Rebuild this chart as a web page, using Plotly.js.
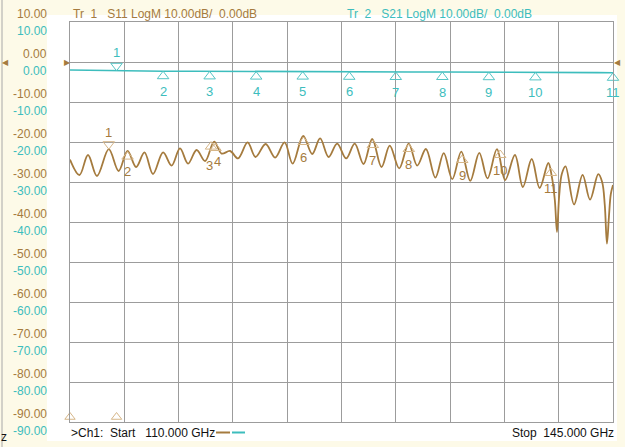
<!DOCTYPE html>
<html><head><meta charset="utf-8">
<script src="https://cdn.plot.ly/plotly-3.0.1.min.js"></script>
<style>html,body{margin:0;padding:0;background:#fdfae8;}#chart{width:625px;height:447px;}</style>
</head><body><div id="chart"></div>
<script>
// ---- data ----
const s11Freq = [110.00,110.61,111.16,111.74,112.50,113.13,113.71,114.26,114.80,115.35,116.00,116.55,117.09,117.61,118.16,118.71,119.29,119.77,120.32,120.83,121.45,121.96,122.61,123.22,123.83,124.35,125.03,125.61,126.12,126.67,127.22,127.80,128.35,128.92,129.48,130.08,130.61,131.22,131.83,132.38,132.94,133.55,134.09,134.64,135.22,135.80,136.38,136.91,137.52,138.05,138.68,139.19,139.76,140.27,140.83,141.05,141.25,141.39,141.53,141.70,141.94,142.49,143.04,143.52,144.05,144.30,144.47,144.61,144.74,144.86,145.00];
const s11dB   = [-24.4,-28.25,-23.25,-28.5,-21.8,-27.25,-22.25,-26.25,-22.6,-28.0,-22.6,-25.9,-21.6,-25.4,-22.0,-24.75,-19.9,-22.9,-22.25,-24.1,-20.1,-23.75,-20.5,-23.9,-20.1,-25.4,-18.5,-23.0,-19.1,-23.75,-20.4,-24.1,-20.4,-25.5,-19.25,-26.25,-20.9,-26.6,-20.4,-25.9,-21.75,-28.9,-22.8,-29.3,-22.4,-29.7,-22.7,-29.1,-21.8,-29.5,-23.25,-31.25,-24.25,-31.5,-25.25,-28.5,-34.5,-42.5,-33.5,-28.0,-26.1,-35.6,-28.2,-34.4,-28.05,-30.0,-35.75,-45.4,-38.5,-33.0,-30.75];

const s21Freq = [110,111.5,113,114.5,116,118,120,122,124,126,128,130,132,134,136,138,140,142,144,145];
const s21dB   = [-2.0,-2.1,-2.2,-2.2,-2.3,-2.3,-2.35,-2.4,-2.4,-2.4,-2.45,-2.45,-2.5,-2.5,-2.5,-2.55,-2.6,-2.6,-2.65,-2.7];

const yTickVals = [10,0,-10,-20,-30,-40,-50,-60,-70,-80,-90];
const yTickText = ["10.00","0.00","-10.00","-20.00","-30.00","-40.00","-50.00","-60.00","-70.00","-80.00","-90.00"];

const s21MkFreq = [113,116,119,122,125,128,131,134,137,140,145];
const s21MkVal  = [-2.2,-2.3,-2.35,-2.4,-2.4,-2.45,-2.5,-2.5,-2.55,-2.6,-2.7];
const s21MkLbl  = ["1","2","3","4","5","6","7","8","9","10","11"];

const s11MkFreq = [112.5,113.71,119.09,119.38,125.06,129.52,131.84,135.28,137.73,141.0];
const s11MkVal  = [-21.8,-22.4,-19.9,-20.25,-18.75,-19.5,-20.5,-23.25,-22.0,-26.5];
const s11MkLbl  = ["1","2","3","4","6","7","8","9","10","11"];

const edgeMkFreq = [110,113];
const edgeMkVal  = [-90,-90];

// ---- styling ----
const BROWN = '#a57b3e', BROWN_L = '#d6b688', CYAN = '#3dbdbd', CYAN_M = '#55c5c5', GRID = '#9c9c9c';
const FONT = 'Liberation Sans, Arial, Helvetica, sans-serif';
const L = 70, T = 22, W = 543, H = 400;
const px = x => (x - L) / W;
const py = y => 1 - (y - T) / H;
// small pixel nudges so the crowded S11 labels 3 and 4 sit as in the reference
const s11LabelNudge = {'3': [-2, -4], '4': [2, 2]};

const traces = [
  {x: s11Freq, y: s11dB, mode: 'lines', line: {color: BROWN, width: 1.8, shape: 'spline', smoothing: 1.0}, hoverinfo: 'skip'},
  {x: s21Freq, y: s21dB, mode: 'lines', line: {color: CYAN, width: 1.6}, hoverinfo: 'skip'},
  {x: s21MkFreq.slice(1), y: s21MkVal.slice(1), yaxis: 'y2', mode: 'markers', cliponaxis: false,
   marker: {symbol: 'triangle-up-open', size: 10, color: CYAN_M, line: {width: 1}}},
  {x: s21MkFreq.slice(0,1), y: s21MkVal.slice(0,1), yaxis: 'y3', mode: 'markers', cliponaxis: false,
   marker: {symbol: 'triangle-down-open', size: 10, color: CYAN_M, line: {width: 1}}},
  {x: s11MkFreq.slice(1), y: s11MkVal.slice(1), yaxis: 'y2', mode: 'markers', cliponaxis: false,
   marker: {symbol: 'triangle-up-open', size: 10, color: BROWN_L, line: {width: 1}}},
  {x: s11MkFreq.slice(0,1), y: s11MkVal.slice(0,1), yaxis: 'y3', mode: 'markers', cliponaxis: false,
   marker: {symbol: 'triangle-down-open', size: 10, color: BROWN_L, line: {width: 1}}},
  {x: edgeMkFreq, y: edgeMkVal, yaxis: 'y3', mode: 'markers', cliponaxis: false,
   marker: {symbol: 'triangle-up-open', size: 9, color: BROWN_L, line: {width: 1}}}
];

const ann = [];
yTickVals.forEach((v, i) => {
  ann.push({xref: 'paper', x: 0, xanchor: 'right', xshift: -21.5, yref: 'y', y: v, yanchor: 'middle', yshift: 8.5,
            text: yTickText[i], showarrow: false, font: {family: FONT, size: 12, color: BROWN}});
  ann.push({xref: 'paper', x: 0, xanchor: 'right', xshift: -21.5, yref: 'y', y: v, yanchor: 'middle', yshift: -8.5,
            text: yTickText[i], showarrow: false, font: {family: FONT, size: 12, color: CYAN}});
});
s21MkFreq.forEach((f, i) => {
  ann.push({xref: 'x', x: f, yref: 'y', y: s21MkVal[i], yshift: i === 0 ? 18 : -20, text: s21MkLbl[i],
            showarrow: false, font: {family: FONT, size: 13, color: CYAN}});
});
s11MkFreq.forEach((f, i) => {
  const n = s11LabelNudge[s11MkLbl[i]] || [0, 0];
  ann.push({xref: 'x', x: f, yref: 'y', y: s11MkVal[i], xshift: n[0], yshift: (i === 0 ? 17 : -20) + n[1], text: s11MkLbl[i],
            showarrow: false, font: {family: FONT, size: 13, color: BROWN}});
});
const nb = s => s.replace(/ /g, '\u00a0');
ann.push({xref: 'paper', x: px(71), xanchor: 'left', yref: 'paper', y: py(13.5), yanchor: 'middle', showarrow: false,
          text: nb('Tr  1   S11 LogM 10.00dB/  0.00dB'), font: {family: FONT, size: 12, color: BROWN}});
ann.push({xref: 'paper', x: px(345), xanchor: 'left', yref: 'paper', y: py(13.5), yanchor: 'middle', showarrow: false,
          text: nb('Tr  2   S21 LogM 10.00dB/  0.00dB'), font: {family: FONT, size: 12, color: CYAN}});
ann.push({xref: 'paper', x: px(69), xanchor: 'left', yref: 'paper', y: py(433), yanchor: 'middle', showarrow: false,
          text: nb('>Ch1:  Start   110.000 GHz'), font: {family: FONT, size: 12, color: '#111'}});
ann.push({xref: 'paper', x: px(616), xanchor: 'right', yref: 'paper', y: py(433), yanchor: 'middle', showarrow: false,
          text: nb('Stop  145.000 GHz'), font: {family: FONT, size: 12, color: '#111'}});
// reference-level pointers
ann.push({xref: 'paper', x: 0, xanchor: 'right', xshift: 3, yref: 'y', y: 0, yanchor: 'middle', showarrow: false,
          text: '\u25B6', font: {family: 'DejaVu Sans', size: 8, color: BROWN}});
ann.push({xref: 'paper', x: 1, xanchor: 'left', xshift: -1, yref: 'y', y: 0, yanchor: 'middle', showarrow: false,
          text: '\u25C0', font: {family: 'DejaVu Sans', size: 8, color: BROWN}});
ann.push({xref: 'paper', x: px(0), xanchor: 'left', yref: 'y', y: 0, yanchor: 'middle', showarrow: false,
          text: '\u25C0', font: {family: 'DejaVu Sans', size: 8, color: BROWN}});
ann.push({xref: 'paper', x: px(-1), xanchor: 'left', yref: 'paper', y: py(437), yanchor: 'middle', showarrow: false,
          text: 'z', font: {family: FONT, size: 12, color: '#111'}});

const shapes = [
  {type: 'rect', xref: 'paper', yref: 'paper', x0: px(47), x1: px(617), y0: py(441), y1: py(15),
   fillcolor: '#ffffff', line: {width: 0}, layer: 'below'},
  {type: 'line', xref: 'paper', yref: 'paper', x0: px(2), x1: px(2), y0: py(447), y1: py(0),
   line: {color: '#a8a8a8', width: 1}},
  {type: 'line', xref: 'paper', yref: 'paper', x0: px(216), x1: px(230), y0: py(432.5), y1: py(432.5),
   line: {color: BROWN, width: 2}},
  {type: 'line', xref: 'paper', yref: 'paper', x0: px(232), x1: px(245), y0: py(432.5), y1: py(432.5),
   line: {color: CYAN, width: 2}}
];

const axisCommon = {showgrid: true, gridcolor: GRID, gridwidth: 1, zeroline: false, showticklabels: false,
                    ticks: '', showline: true, mirror: true, linecolor: GRID, linewidth: 1, fixedrange: true};
const layout = {
  width: 625, height: 447,
  margin: {l: L, r: 625 - L - W, t: T, b: 447 - T - H, pad: 0},
  paper_bgcolor: '#fdfae8', plot_bgcolor: '#ffffff', showlegend: false,
  font: {family: FONT, size: 12},
  xaxis: Object.assign({}, axisCommon, {range: [110, 145], tick0: 110, dtick: 3.5}),
  yaxis: Object.assign({}, axisCommon, {range: [-90, 10], tick0: 10, dtick: 10}),
  yaxis2: {overlaying: 'y', range: [-88.75, 11.25], visible: false, fixedrange: true},
  yaxis3: {overlaying: 'y', range: [-91.25, 8.75], visible: false, fixedrange: true},
  annotations: ann, shapes: shapes
};
Plotly.newPlot('chart', traces, layout, {staticPlot: true, displayModeBar: false});
</script></body></html>
